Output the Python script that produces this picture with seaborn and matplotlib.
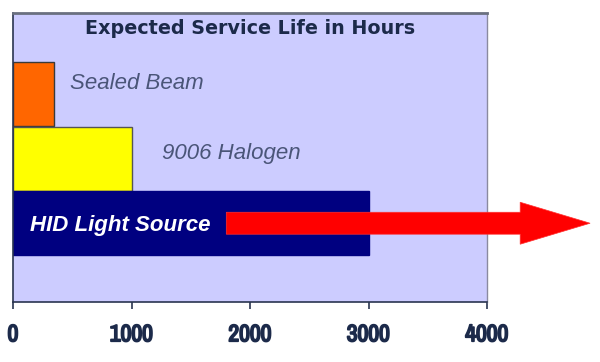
import matplotlib
matplotlib.use("Agg")
import matplotlib.pyplot as plt
import matplotlib.patheffects as pe
import seaborn as sns
import pandas as pd

# ---- data ----
categories = ["Sealed Beam", "9006 Halogen", "HID Light Source"]
hours = [350, 1000, 3000]
bar_colors = ["#FF6600", "#FFFF00", "#000080"]
edge_colors = ["#3a3a3a", "#555555", "#000080"]
x_ticks = [0, 1000, 2000, 3000, 4000]
title = "Expected Service Life in Hours"
arrow_start = 1800
arrow_end = 4870

df = pd.DataFrame({"category": categories, "hours": hours})

sns.set_style("white")
fig = plt.figure(figsize=(6.0, 3.62), dpi=100)
fig.patch.set_facecolor("white")
ax = fig.add_axes([13/600, 1-302/362, (487-13)/600, (302-13)/362])
ax.set_facecolor("#CCCCFF")

sns.barplot(data=df, x="hours", y="category", hue="category",
            palette=bar_colors, orient="h", width=0.99, legend=False, ax=ax,
            saturation=1)
for patch, ec in zip(ax.patches, edge_colors):
    patch.set_edgecolor(ec)
    patch.set_linewidth(1.0)

ax.set_xlim(0, 4000)
ax.set_ylim(3.22, -1.256)
ax.set_xticks(x_ticks)
ax.set_xticklabels([str(t) for t in x_ticks])
ax.set_yticks([])
ax.set_xlabel("")
ax.set_ylabel("")

navy = "#1c2a4a"
for lab in ax.get_xticklabels():
    lab.set_family(["Archivo Narrow", "DejaVu Sans"])
    lab.set_fontweight("bold")
    lab.set_fontsize(17)
    lab.set_color(navy)
    lab.set_path_effects([pe.withStroke(linewidth=1.3, foreground=navy)])
ax.tick_params(axis="x", direction="out", length=5, width=1.2, color="#2a3550", pad=11, bottom=True)

for side in ["left", "bottom"]:
    ax.spines[side].set_color("#2a3550")
    ax.spines[side].set_linewidth(1.2)
ax.spines["top"].set_color("#6a7080")
ax.spines["top"].set_linewidth(2.0)
ax.spines["right"].set_color("#8a8aa0")
ax.spines["right"].set_linewidth(1.0)

# title inside the plot area
ax.text(0.5, 1 - (28 - 13) / 289, title, transform=ax.transAxes, ha="center", va="center",
        fontsize=13.8, fontweight="bold", color=navy, family="DejaVu Sans")

# category labels
label_font = ["Liberation Sans", "DejaVu Sans"]
ax.text(480, 0 - 0.17, categories[0], ha="left", va="center", fontsize=16,
        style="italic", color="#4a5578", family=label_font)
ax.text(1257, 1 - 0.08, categories[1], ha="left", va="center", fontsize=16,
        style="italic", color="#4a5578", family=label_font)
ax.text(143, 2 + 0.03, categories[2], ha="left", va="center", fontsize=16,
        style="italic", fontweight="bold", color="white", family=label_font)

# red arrow from the HID bar beyond the axis
ax.arrow(arrow_start, 2, arrow_end - arrow_start, 0, width=0.34, head_width=0.65,
         head_length=590, length_includes_head=True, color="#FF0000",
         ec="#FF3030", lw=0.5, clip_on=False, zorder=5)

fig.savefig("out.png", dpi=100, facecolor="white")
